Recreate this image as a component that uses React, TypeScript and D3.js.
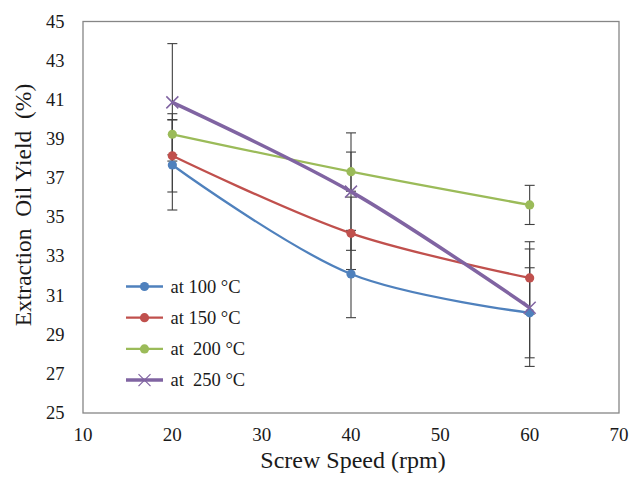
import React, { useEffect, useRef } from 'react'
import * as d3 from 'd3'

// screw speed (rpm)
const speeds = [20, 40, 60]

const seriesNames = ['at 100 \u00B0C', 'at 150 \u00B0C', 'at  200 \u00B0C', 'at  250 \u00B0C']
const seriesColors = ['#4F81BD', '#C0504D', '#9BBB59', '#8064A2']

// oil yield (%) per temperature
const yield100 = [37.67, 32.1, 30.12]
const yield150 = [38.14, 34.18, 31.9]
const yield200 = [39.24, 37.33, 35.63]
const yield250 = [40.87, 36.31, 30.38]

// error bar half-widths
const err100 = [2.3, 2.23, 2.3]
const err150 = [1.85, 1.85, 1.85]
const err200 = [1.05, 1.0, 1.0]
const err250 = [3.0, 3.0, 3.0]

const xTicks = [10, 20, 30, 40, 50, 60, 70]
const yTicks = [25, 27, 29, 31, 33, 35, 37, 39, 41, 43, 45]

const W = 630, H = 479
const font = 'Liberation Serif, Times New Roman, DejaVu Serif, serif'

export default function App() {
  const ref = useRef<SVGSVGElement>(null)

  useEffect(() => {
    const svg = d3.select(ref.current)
    svg.selectAll('*').remove()

    const left = 83, right = 619, top = 21.5, bottom = 413

    const x = d3.scaleLinear().domain([10, 70]).range([left, right])
    const y = d3.scaleLinear().domain([25, 45]).range([bottom, top])

    svg.append('rect')
      .attr('width', W).attr('height', H).attr('fill', '#fff')

    // plot frame
    svg.append('rect')
      .attr('x', left).attr('y', top)
      .attr('width', right - left).attr('height', bottom - top)
      .attr('fill', 'none').attr('stroke', '#868686').attr('stroke-width', 1.3)

    // tick labels
    svg.append('g').selectAll('text').data(yTicks).join('text')
      .attr('x', 64.5).attr('y', d => y(d) + 6)
      .attr('text-anchor', 'end')
      .style('font-family', font).attr('font-size', 18.5).attr('fill', '#1a1a1a')
      .text(d => d)

    svg.append('g').selectAll('text').data(xTicks).join('text')
      .attr('x', d => x(d)).attr('y', 441)
      .attr('text-anchor', 'middle')
      .style('font-family', font).attr('font-size', 19).attr('fill', '#1a1a1a')
      .text(d => d)

    // axis titles
    svg.append('text')
      .attr('x', 353).attr('y', 468)
      .attr('text-anchor', 'middle')
      .style('font-family', font).attr('font-size', 24).attr('fill', '#1a1a1a')
      .text('Screw Speed (rpm)')

    svg.append('text')
      .attr('transform', `translate(31, 205) rotate(-90)`)
      .attr('text-anchor', 'middle')
      .style('font-family', font).attr('font-size', 23.5).attr('fill', '#1a1a1a')
      .style('white-space', 'pre')
      .text('Extraction  Oil Yield  (%)')

    const values = [yield100, yield150, yield200, yield250]
    const errors = [err100, err150, err200, err250]

    // error bars
    values.forEach((vals, s) => {
      const g = svg.append('g').attr('stroke', '#404040').attr('stroke-width', 1.1)
      vals.forEach((v, i) => {
        const cx = x(speeds[i])
        const hi = y(v + errors[s][i]), lo = y(v - errors[s][i])
        g.append('line').attr('x1', cx).attr('x2', cx).attr('y1', hi).attr('y2', lo)
        g.append('line').attr('x1', cx - 5).attr('x2', cx + 5).attr('y1', hi).attr('y2', hi)
        g.append('line').attr('x1', cx - 5).attr('x2', cx + 5).attr('y1', lo).attr('y2', lo)
      })
    })

    const line = d3.line<number>()
      .x((_, i) => x(speeds[i]))
      .y(d => y(d))
      .curve(d3.curveCatmullRom.alpha(0.5))

    values.forEach((vals, s) => {
      const isX = s === 3
      svg.append('path')
        .attr('d', line(vals))
        .attr('fill', 'none')
        .attr('stroke', seriesColors[s])
        .attr('stroke-width', isX ? 3.5 : 2.3)

      const g = svg.append('g')
      vals.forEach((v, i) => {
        const cx = x(speeds[i]), cy = y(v)
        if (isX) {
          g.append('path')
            .attr('d', `M${cx - 6},${cy - 6}L${cx + 6},${cy + 6}M${cx - 6},${cy + 6}L${cx + 6},${cy - 6}`)
            .attr('stroke', seriesColors[s]).attr('stroke-width', 1.5)
        } else {
          g.append('circle').attr('cx', cx).attr('cy', cy).attr('r', 4.6)
            .attr('fill', seriesColors[s])
        }
      })
    })

    // legend
    const legend = svg.append('g')
    seriesNames.forEach((name, s) => {
      const ly = 286.5 + s * 31.2
      const isX = s === 3
      legend.append('line')
        .attr('x1', 126).attr('x2', 163).attr('y1', ly).attr('y2', ly)
        .attr('stroke', seriesColors[s]).attr('stroke-width', isX ? 3.5 : 2.3)
      if (isX) {
        legend.append('path')
          .attr('d', `M${144.5 - 6},${ly - 6}L${144.5 + 6},${ly + 6}M${144.5 - 6},${ly + 6}L${144.5 + 6},${ly - 6}`)
          .attr('stroke', seriesColors[s]).attr('stroke-width', 1.2)
      } else {
        legend.append('circle').attr('cx', 144.5).attr('cy', ly).attr('r', 4.6)
          .attr('fill', seriesColors[s])
      }
      legend.append('text')
        .attr('x', 170.5).attr('y', ly + 6)
        .style('font-family', font).attr('font-size', 18.5).attr('fill', '#1a1a1a')
        .style('white-space', 'pre')
        .text(name)
    })
  }, [])

  return (
    <div style={{ position: 'fixed', left: 0, top: 0, width: W, height: H, overflow: 'hidden' }}>
      <svg ref={ref} width={W} height={H} style={{ display: 'block' }} />
    </div>
  )
}
